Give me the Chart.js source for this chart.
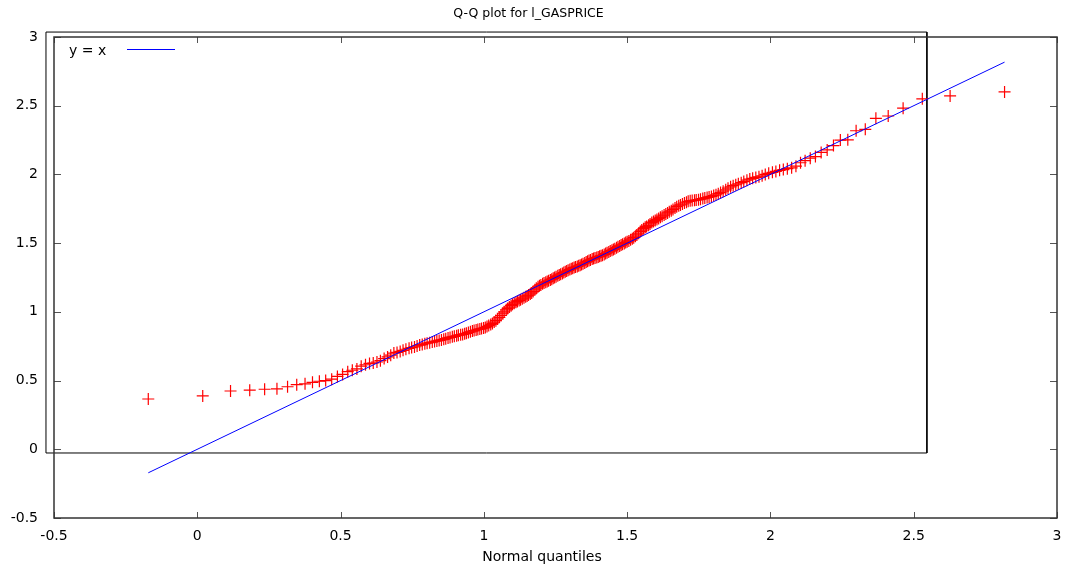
<!DOCTYPE html>
<html><head><meta charset="utf-8">
<script src="https://cdn.jsdelivr.net/npm/chart.js@4.4.0/dist/chart.umd.min.js"></script>
<style>html,body{margin:0;padding:0;background:#fff}#wrap{width:1065px;height:570px}</style>
</head><body><div id="wrap"><canvas id="c" width="1065" height="570"></canvas></div>
<script>
// Normal quantiles (x) and sorted l_GASPRICE values (y)
const normalQuantiles = [
-0.171, 0.019, 0.116, 0.183, 0.235, 0.278, 0.315, 0.347, 0.376, 0.402,
0.426, 0.448, 0.469, 0.489, 0.507, 0.525, 0.541, 0.557, 0.572, 0.587,
0.601, 0.614, 0.627, 0.639, 0.652, 0.664, 0.675, 0.686, 0.697, 0.708,
0.718, 0.728, 0.739, 0.748, 0.758, 0.767, 0.776, 0.785, 0.794, 0.802,
0.811, 0.820, 0.828, 0.836, 0.844, 0.852, 0.860, 0.867, 0.875, 0.882,
0.890, 0.897, 0.905, 0.911, 0.919, 0.926, 0.933, 0.939, 0.946, 0.953,
0.960, 0.966, 0.973, 0.979, 0.986, 0.992, 0.999, 1.005, 1.011, 1.017,
1.024, 1.030, 1.036, 1.042, 1.048, 1.054, 1.060, 1.066, 1.071, 1.078,
1.083, 1.089, 1.095, 1.100, 1.106, 1.112, 1.117, 1.123, 1.128, 1.134,
1.140, 1.146, 1.151, 1.156, 1.162, 1.167, 1.172, 1.178, 1.183, 1.189,
1.194, 1.199, 1.205, 1.210, 1.216, 1.221, 1.226, 1.232, 1.237, 1.242,
1.247, 1.252, 1.258, 1.263, 1.268, 1.274, 1.279, 1.284, 1.289, 1.294,
1.300, 1.305, 1.310, 1.315, 1.320,
1.326, 1.331, 1.336, 1.341, 1.346, 1.352, 1.357, 1.362, 1.367, 1.372,
1.378, 1.383, 1.388, 1.394, 1.399, 1.404, 1.409, 1.414, 1.420, 1.425,
1.430, 1.436, 1.441, 1.447, 1.452, 1.457, 1.463, 1.468, 1.474, 1.479,
1.484, 1.490, 1.495, 1.500, 1.506, 1.512, 1.518, 1.523, 1.529, 1.534,
1.540, 1.546, 1.551, 1.557, 1.563, 1.568, 1.575, 1.580, 1.586, 1.592,
1.598, 1.604, 1.610, 1.616, 1.622, 1.629, 1.635, 1.641, 1.647, 1.654,
1.660, 1.667, 1.673, 1.680, 1.686, 1.693, 1.700, 1.707, 1.713, 1.720,
1.727, 1.735, 1.741, 1.749, 1.756, 1.764, 1.771, 1.779, 1.786, 1.794,
1.802, 1.810, 1.818, 1.826, 1.835, 1.844, 1.852, 1.861, 1.870, 1.879,
1.888, 1.898, 1.907, 1.918, 1.928, 1.938, 1.949, 1.960, 1.971, 1.982,
1.994, 2.007, 2.019, 2.032, 2.045, 2.059, 2.074, 2.089, 2.105, 2.121,
2.139, 2.157, 2.177, 2.198, 2.220, 2.244, 2.270, 2.299, 2.331, 2.368,
2.411, 2.463, 2.530, 2.627, 2.817
];
const gasPrice = [
0.366, 0.388, 0.424, 0.430, 0.437, 0.440, 0.455, 0.470, 0.476, 0.487,
0.495, 0.500, 0.510, 0.530, 0.545, 0.565, 0.575, 0.585, 0.605, 0.615,
0.625, 0.628, 0.635, 0.645, 0.660, 0.672, 0.685, 0.700, 0.705, 0.712,
0.720, 0.728, 0.735, 0.740, 0.745, 0.752, 0.758, 0.762, 0.768, 0.772,
0.776, 0.780, 0.785, 0.788, 0.792, 0.796, 0.800, 0.805, 0.810, 0.814,
0.818, 0.822, 0.826, 0.830, 0.833, 0.836, 0.840, 0.844, 0.850, 0.855,
0.860, 0.864, 0.868, 0.872, 0.875, 0.878, 0.882, 0.887, 0.893, 0.900,
0.908, 0.916, 0.926, 0.936, 0.948, 0.960, 0.975, 0.990, 1.000, 1.015,
1.025, 1.035, 1.045, 1.055, 1.063, 1.070, 1.076, 1.082, 1.088, 1.095,
1.102, 1.110, 1.116, 1.122, 1.130, 1.138, 1.148, 1.160, 1.172, 1.182,
1.190, 1.196, 1.204, 1.210, 1.215, 1.220, 1.226, 1.232, 1.238, 1.244,
1.250, 1.256, 1.262, 1.268, 1.274, 1.280, 1.286, 1.292, 1.297, 1.302,
1.308, 1.313, 1.318, 1.322, 1.326,
1.330, 1.335, 1.340, 1.345, 1.350, 1.356, 1.362, 1.368, 1.373, 1.378,
1.384, 1.388, 1.392, 1.396, 1.400, 1.404, 1.408, 1.412, 1.418, 1.424,
1.430, 1.436, 1.442, 1.448, 1.454, 1.460, 1.467, 1.474, 1.480, 1.486,
1.492, 1.498, 1.504, 1.510, 1.516, 1.524, 1.532, 1.540, 1.550, 1.560,
1.572, 1.584, 1.595, 1.605, 1.615, 1.622, 1.630, 1.640, 1.650, 1.658,
1.665, 1.672, 1.680, 1.688, 1.696, 1.704, 1.712, 1.720, 1.728, 1.735,
1.745, 1.755, 1.765, 1.772, 1.778, 1.785, 1.792, 1.798, 1.804, 1.808,
1.810, 1.812, 1.814, 1.816, 1.820, 1.824, 1.828, 1.832, 1.836, 1.840,
1.846, 1.852, 1.860, 1.868, 1.878, 1.888, 1.900, 1.910, 1.918, 1.925,
1.932, 1.940, 1.948, 1.958, 1.966, 1.972, 1.978, 1.983, 1.990, 2.000,
2.008, 2.015, 2.022, 2.030, 2.035, 2.042, 2.048, 2.060, 2.085, 2.100,
2.118, 2.130, 2.160, 2.178, 2.210, 2.250, 2.252, 2.318, 2.328, 2.408,
2.425, 2.482, 2.550, 2.571, 2.600
];
// y = x reference line endpoints (data units)
const refLineX = [-0.171, 2.817];
const refLineY = [-0.171, 2.817];
// tick values
const xTickValues = [-0.5, 0, 0.5, 1, 1.5, 2, 2.5, 3];
const yTickValues = [-0.5, 0, 0.5, 1, 1.5, 2, 2.5, 3];
// the extra rectangle seen in the plot (data units)
const boxX = [-0.528, 2.546, 2.546, -0.528, -0.528];
const boxY = [3.036, 3.036, -0.027, -0.027, 3.036];

const FONT = "'DejaVu Sans', Verdana, sans-serif";
const toPts = (xs, ys) => xs.map((x, i) => ({x: x, y: ys[i]}));

const framePlugin = {
  id: 'frame',
  afterDatasetsDraw(chart) {
    const {ctx, chartArea: a, scales: {x, y}} = chart;
    ctx.save();
    ctx.strokeStyle = '#555';
    ctx.lineWidth = 1;
    ctx.beginPath();
    xTickValues.forEach(v => {
      const px = Math.round(x.getPixelForValue(v)) + 0.5;
      ctx.moveTo(px, a.bottom); ctx.lineTo(px, a.bottom - 6);
      ctx.moveTo(px, a.top); ctx.lineTo(px, a.top + 6);
    });
    yTickValues.forEach(v => {
      const py = Math.round(y.getPixelForValue(v)) + 0.5;
      ctx.moveTo(a.left, py); ctx.lineTo(a.left + 7, py);
      ctx.moveTo(a.right, py); ctx.lineTo(a.right - 7, py);
    });
    ctx.stroke();
    ctx.strokeStyle = '#333';
    ctx.lineWidth = 1.5;
    ctx.strokeRect(a.left, a.top, a.right - a.left, a.bottom - a.top);
    ctx.restore();
  },
  afterDraw(chart) {
    const {ctx, chartArea: a} = chart;
    ctx.save();
    ctx.font = '14px ' + FONT;
    ctx.fillStyle = '#000';
    ctx.textBaseline = 'middle';
    ctx.textAlign = 'left';
    ctx.fillText('y = x', a.left + 15, a.top + 14);
    ctx.strokeStyle = '#0000ff';
    ctx.lineWidth = 1;
    ctx.beginPath();
    ctx.moveTo(a.left + 73, a.top + 12.5);
    ctx.lineTo(a.left + 121, a.top + 12.5);
    ctx.stroke();
    ctx.textAlign = 'center';
    ctx.font = '14px ' + FONT;
    ctx.fillText('Normal quantiles', 542, 557);
    ctx.restore();
  }
};

const fmt = v => String(v);

new Chart(document.getElementById('c'), {
  type: 'scatter',
  data: {
    datasets: [
      {
        label: 'y = x',
        data: toPts(refLineX, refLineY),
        showLine: true,
        borderColor: '#0000ff',
        borderWidth: 1,
        pointRadius: 0,
        fill: false,
        order: 0
      },
      {
        label: 'l_GASPRICE',
        data: toPts(normalQuantiles, gasPrice),
        pointStyle: 'cross',
        pointRadius: 6,
        pointHoverRadius: 6,
        borderColor: '#ff0000',
        backgroundColor: '#ff0000',
        pointBorderWidth: 1.2,
        showLine: false,
        order: 1
      },
      {
        label: 'box',
        data: toPts(boxX, boxY),
        showLine: true,
        borderColor: '#000',
        borderWidth: 1,
        pointRadius: 0,
        fill: false,
        clip: false,
        order: 2
      }
    ]
  },
  options: {
    responsive: false,
    animation: false,
    devicePixelRatio: 1,
    layout: {padding: {left: 0, right: 8, top: 0, bottom: 0}},
    plugins: {
      legend: {display: false},
      tooltip: {enabled: false},
      title: {
        display: true,
        text: 'Q-Q plot for l_GASPRICE',
        color: '#000',
        font: {family: FONT, size: 12.5, weight: 'normal'},
        padding: {top: 6, bottom: 16}
      }
    },
    scales: {
      x: {
        type: 'linear',
        min: -0.5, max: 3,
        afterBuildTicks: s => { s.ticks = xTickValues.map(v => ({value: v})); },
        afterFit: s => { s.height = 52; s.paddingLeft = 0; s.paddingRight = 0; },
        grid: {display: false},
        border: {display: false},
        ticks: {color: '#000', font: {family: FONT, size: 14}, padding: 2, maxRotation: 0, callback: fmt},
        title: {display: false, text: 'Normal quantiles'}
      },
      y: {
        type: 'linear',
        min: -0.5, max: 3,
        afterBuildTicks: s => { s.ticks = yTickValues.map(v => ({value: v})); },
        afterFit: s => { s.width = 54; s.paddingTop = 0; s.paddingBottom = 0; },
        grid: {display: false},
        border: {display: false},
        ticks: {color: '#000', font: {family: FONT, size: 14}, padding: 8, callback: fmt}
      }
    }
  },
  plugins: [framePlugin]
});
</script>
</body></html>
